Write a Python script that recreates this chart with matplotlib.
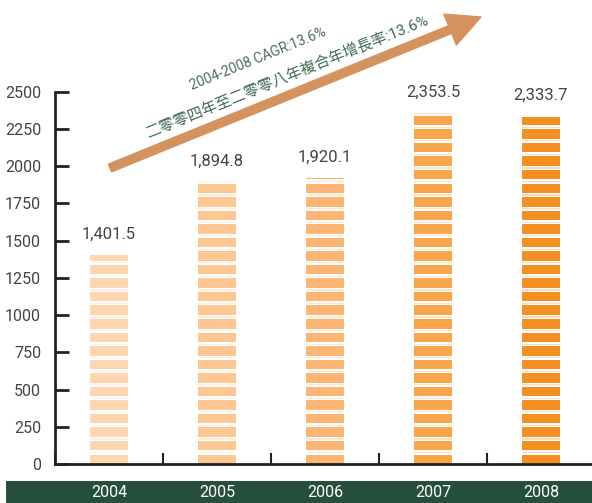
import numpy as np
import matplotlib.pyplot as plt
from matplotlib.patches import Rectangle

years = ["2004", "2005", "2006", "2007", "2008"]
values = [1401.5, 1894.8, 1920.1, 2353.5, 2333.7]
labels = ["1,401.5", "1,894.8", "1,920.1", "2,353.5", "2,333.7"]
colors = ["#fed7b1", "#fcc791", "#fcb572", "#f9a54a", "#f68f22"]
yticks = [0, 250, 500, 750, 1000, 1250, 1500, 1750, 2000, 2250, 2500]

plt.rcParams['font.family'] = ['Roboto', 'Noto Sans CJK TC', 'DejaVu Sans']

fig = plt.figure(figsize=(5.92, 5.03), dpi=100)
ax = fig.add_axes([0.093, 0.0775, 0.912, 0.74])
ax.set_xlim(-0.5, 4.5)
ax.set_ylim(0, 2500)

period = 91.0
fill = 0.7
w = 0.35
for i, v in enumerate(values):
    # striped bars: solid blocks with thin white gaps, anchored at the bottom
    y0 = 0.0
    while y0 < v:
        h = min(period * fill, v - y0)
        ax.add_patch(Rectangle((i - w / 2, y0), w, h, facecolor=colors[i],
                               edgecolor='none'))
        top = y0 + period * fill
        if top < v:
            gh = min(period * (1 - fill) * 0.3, v - top)
            ax.add_patch(Rectangle((i - w / 2, top + period * (1 - fill) * 0.35),
                                   w, gh, facecolor=colors[i], alpha=0.3,
                                   edgecolor='none'))
        y0 += period
    ax.text(i, v + 90, labels[i], ha='center', va='bottom', fontsize=12,
            color='#444444')

for s in ['top', 'right']:
    ax.spines[s].set_visible(False)
for s in ['left', 'bottom']:
    ax.spines[s].set_linewidth(2.0)
    ax.spines[s].set_color('#222222')

ax.set_yticks(yticks)
ax.set_yticklabels([str(t) for t in yticks], fontsize=11.5, color='#444444')
ax.tick_params(axis='y', direction='in', length=10, width=2, color='#222222', pad=10)
ax.set_xticks([-0.5, 0.5, 1.5, 2.5, 3.5, 4.5])
ax.set_xticklabels([])
ax.tick_params(axis='x', direction='in', length=8, width=1.5, color='#222222')

# dark green band with years
fig.patches.append(Rectangle((0.01, 0.0), 0.99, 0.044, transform=fig.transFigure,
                             facecolor='#26503c', edgecolor='none'))
for i, y in enumerate(years):
    xf = 0.093 + 0.912 * (i + 0.5) / 5
    fig.text(xf, 0.02, y, ha='center', va='center', color='white',
             fontsize=11.5)

# growth arrow
W, H = 592, 503
ang = np.degrees(np.arctan2(150, 370))
ax2 = fig.add_axes([0, 0, 1, 1], facecolor='none')
ax2.set_xlim(0, W)
ax2.set_ylim(H, 0)
ax2.axis('off')
ax2.annotate('', xy=(481, 17), xytext=(110, 168),
             arrowprops=dict(arrowstyle='simple,head_width=2.4,head_length=2.4,tail_width=0.6',
                             color='#d4935e', shrinkA=0, shrinkB=0, mutation_scale=10))
ax2.text(258, 59, "2004-2008 CAGR:13.6%", rotation=ang, rotation_mode='anchor',
         ha='center', va='center', fontsize=10, color='#4a6e5c')
ax2.text(287, 76, "二零零四年至二零零八年複合年增長率:13.6%", rotation=ang,
         rotation_mode='anchor', ha='center', va='center', fontsize=11,
         color='#3f6a55')

fig.savefig('out.png', dpi=100)
